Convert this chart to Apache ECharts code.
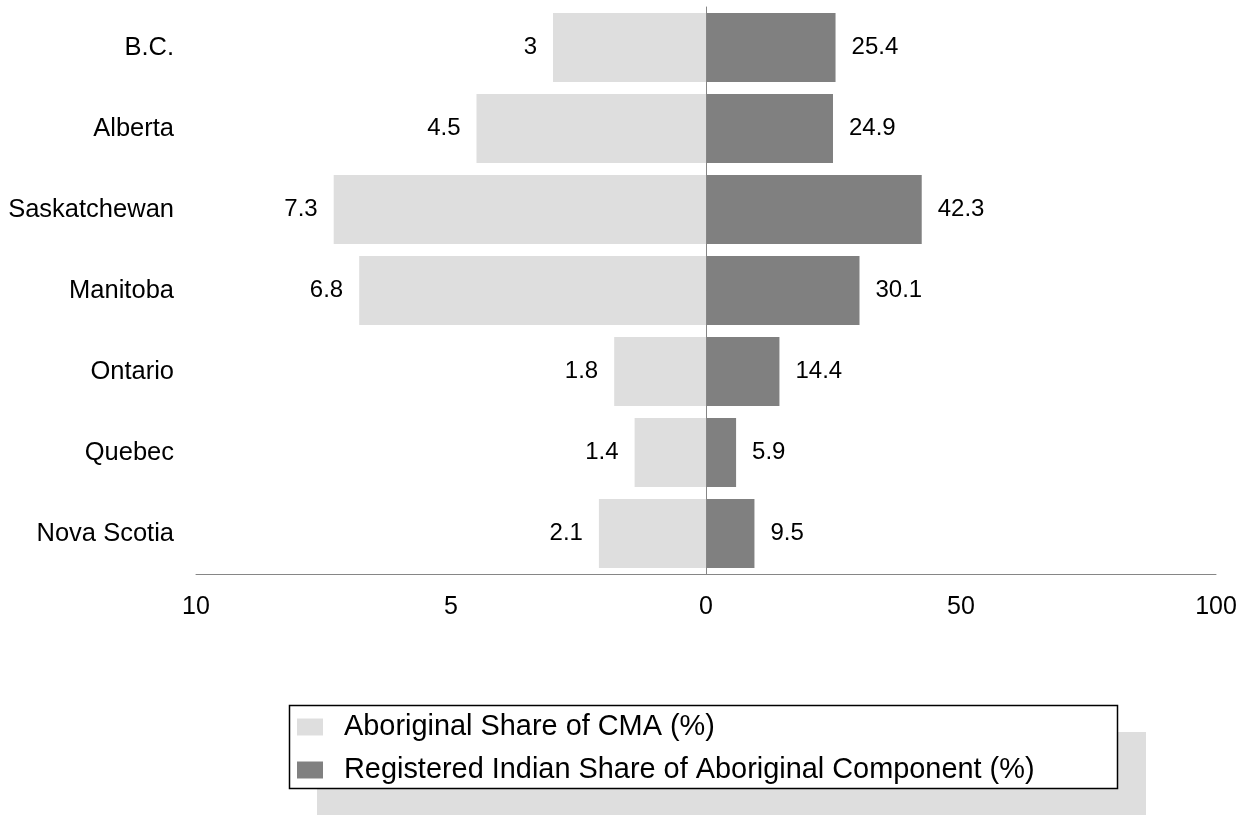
<!DOCTYPE html>
<html>
<head>
<meta charset="utf-8">
<script src="https://cdn.jsdelivr.net/npm/echarts@6/dist/echarts.min.js"></script>
<style>
html,body{margin:0;padding:0;background:#fff;}
#chart{width:1250px;height:815px;}
</style>
</head>
<body>
<div id="chart"></div>
<script>
var categories = ['B.C.', 'Alberta', 'Saskatchewan', 'Manitoba', 'Ontario', 'Quebec', 'Nova Scotia'];
var aboriginalShare = [3, 4.5, 7.3, 6.8, 1.8, 1.4, 2.1];
var registeredShare = [25.4, 24.9, 42.3, 30.1, 14.4, 5.9, 9.5];
var seriesNames = ['Aboriginal Share of CMA (%)', 'Registered Indian Share of Aboriginal Component (%)'];

var FONT = 'Liberation Sans, Arial, sans-serif';
var chart = echarts.init(document.getElementById('chart'));
chart.setOption({
  backgroundColor: '#ffffff',
  animation: false,
  grid: [
    {left: 196, width: 510, top: 7, height: 567},
    {left: 706, width: 510, top: 7, height: 567}
  ],
  xAxis: [
    {gridIndex: 0, type: 'value', min: 0, max: 10, interval: 5, inverse: true,
     axisLine: {show: true, lineStyle: {color: '#868686', width: 1}},
     axisTick: {show: false}, splitLine: {show: false},
     axisLabel: {showMinLabel: false, color: '#000', fontSize: 25, fontFamily: FONT, margin: 21}},
    {gridIndex: 1, type: 'value', min: 0, max: 100, interval: 50,
     axisLine: {show: true, lineStyle: {color: '#868686', width: 1}},
     axisTick: {show: false}, splitLine: {show: false},
     axisLabel: {color: '#000', fontSize: 25, fontFamily: FONT, margin: 21}}
  ],
  yAxis: [
    {gridIndex: 0, type: 'category', data: categories, inverse: true,
     axisLine: {show: false}, axisTick: {show: false},
     axisLabel: {color: '#000', fontSize: 25.5, fontFamily: FONT, margin: 22}},
    {gridIndex: 1, type: 'category', data: categories, inverse: true,
     axisLine: {show: true, lineStyle: {color: '#868686', width: 1}}, axisTick: {show: false},
     axisLabel: {show: false}, z: 5}
  ],
  legend: {
    orient: 'vertical', left: 297, top: 712, padding: 0,
    itemWidth: 26, itemHeight: 17, itemGap: 13,
    icon: 'rect',
    textStyle: {color: '#000', fontSize: 28.9, fontFamily: FONT, lineHeight: 30, padding: [0, 0, 0, 16]},
    data: seriesNames, z: 10
  },
  graphic: [
    {type: 'rect', z: 1, silent: true, shape: {x: 317, y: 732, width: 829, height: 90}, style: {fill: '#dedede'}},
    {type: 'rect', z: 2, silent: true, shape: {x: 289.5, y: 705.5, width: 828, height: 83}, style: {fill: '#ffffff', stroke: '#000', lineWidth: 1.5}}
  ],
  series: [
    {name: seriesNames[0], type: 'bar', xAxisIndex: 0, yAxisIndex: 0, data: aboriginalShare,
     barCategoryGap: '15%', itemStyle: {color: '#dedede'},
     label: {show: true, position: 'left', distance: 16, color: '#000', fontSize: 24, fontFamily: FONT}},
    {name: seriesNames[1], type: 'bar', xAxisIndex: 1, yAxisIndex: 1, data: registeredShare,
     barCategoryGap: '15%', itemStyle: {color: '#808080'},
     label: {show: true, position: 'right', distance: 16, color: '#000', fontSize: 24, fontFamily: FONT}}
  ]
});
</script>
</body>
</html>
